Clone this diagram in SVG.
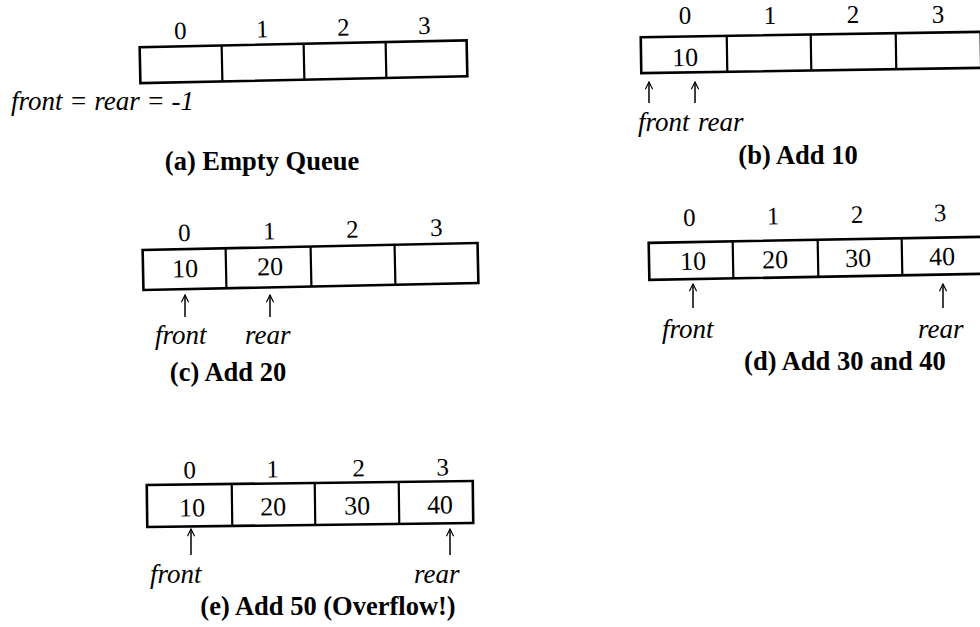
<svg xmlns="http://www.w3.org/2000/svg" width="980" height="627" viewBox="0 0 980 627">
  <defs>
    <style>
      .cell { fill: #fff; stroke: #000; stroke-width: 2.6; }
      .div { stroke: #000; stroke-width: 2.2; }
      .idx { font-family: "Liberation Serif", "Times New Roman", serif; font-size: 25px; text-anchor: middle; fill: #000; }
      .val { font-family: "Liberation Serif", "Times New Roman", serif; font-size: 26px; text-anchor: middle; fill: #000; }
      .ptr { font-family: "Liberation Serif", "Times New Roman", serif; font-size: 27px; font-style: italic; fill: #000; }
      .cap { font-family: "Liberation Serif", "Times New Roman", serif; font-size: 26.5px; font-weight: bold; text-anchor: middle; fill: #000; }
      .arrow { stroke: #000; stroke-width: 1.5; fill: none; marker-end: url(#head); }
    </style>
    <marker id="head" viewBox="0 0 10 10" refX="9" refY="5" markerWidth="9" markerHeight="9" orient="auto" markerUnits="userSpaceOnUse">
      <path d="M1,1 L9,5 L1,9" fill="none" stroke="#000" stroke-width="1.3"/>
    </marker>
  </defs>

  <!-- (a) empty queue -->
  <g id="queue-a">
    <g transform="rotate(-1.2 303.5 61.75)">
      <rect class="cell" x="140" y="43.75" width="327" height="36"/>
      <line class="div" x1="222" y1="43.75" x2="222" y2="79.75"/>
      <line class="div" x1="304" y1="43.75" x2="304" y2="79.75"/>
      <line class="div" x1="386" y1="43.75" x2="386" y2="79.75"/>
      <text class="idx" x="181" y="36.5">0</text>
      <text class="idx" x="263" y="36.5">1</text>
      <text class="idx" x="344" y="36.5">2</text>
      <text class="idx" x="425" y="36.5">3</text>
    </g>
    <text class="ptr" x="11" y="110">front = rear = -1</text>
    <text class="cap" x="262" y="170">(a) Empty Queue</text>
  </g>

  <!-- (b) add 10 -->
  <g id="queue-b">
    <g transform="rotate(-0.9 811 52.5)">
      <rect class="cell" x="641" y="34.5" width="340" height="36"/>
      <line class="div" x1="727" y1="34.5" x2="727" y2="70.5"/>
      <line class="div" x1="811" y1="34.5" x2="811" y2="70.5"/>
      <line class="div" x1="896" y1="34.5" x2="896" y2="70.5"/>
      <text class="val" x="685" y="64">10</text>
    </g>
    <text class="idx" x="685" y="24">0</text>
    <text class="idx" x="770" y="23.5">1</text>
    <text class="idx" x="853" y="23">2</text>
    <text class="idx" x="938" y="23">3</text>
    <text class="ptr" x="638" y="131">front</text>
    <text class="ptr" x="698" y="131">rear</text>
    <text class="cap" x="798" y="164">(b) Add 10</text>
  </g>

  <!-- (c) add 20 -->
  <g id="queue-c">
    <g transform="rotate(-1.2 310.5 266.5)">
      <rect class="cell" x="143" y="246.5" width="335" height="40"/>
      <line class="div" x1="226" y1="246.5" x2="226" y2="286.5"/>
      <line class="div" x1="311" y1="246.5" x2="311" y2="286.5"/>
      <line class="div" x1="395" y1="246.5" x2="395" y2="286.5"/>
      <text class="idx" x="185" y="238.5">0</text>
      <text class="idx" x="270" y="238.5">1</text>
      <text class="idx" x="353" y="238.5">2</text>
      <text class="idx" x="437" y="238.5">3</text>
      <text class="val" x="185" y="274.5">10</text>
      <text class="val" x="270" y="274.5">20</text>
    </g>
    <text class="ptr" x="155" y="344">front</text>
    <text class="ptr" x="245" y="344">rear</text>
    <text class="cap" x="228" y="381">(c) Add 20</text>
  </g>

  <!-- (d) add 30 and 40 -->
  <g id="queue-d">
    <g transform="rotate(-1.05 818 258.3)">
      <rect class="cell" x="649" y="239.8" width="338" height="37"/>
      <line class="div" x1="733" y1="239.8" x2="733" y2="276.8"/>
      <line class="div" x1="818" y1="239.8" x2="818" y2="276.8"/>
      <line class="div" x1="902" y1="239.8" x2="902" y2="276.8"/>
      <text class="idx" x="690" y="223.5">0</text>
      <text class="idx" x="774" y="223.5">1</text>
      <text class="idx" x="858" y="223.5">2</text>
      <text class="idx" x="941" y="223.5">3</text>
      <text class="val" x="693" y="267.5">10</text>
      <text class="val" x="775" y="267.5">20</text>
      <text class="val" x="858" y="267.5">30</text>
      <text class="val" x="942" y="267.5">40</text>
    </g>
    <text class="ptr" x="662" y="338">front</text>
    <text class="ptr" x="918" y="338">rear</text>
    <text class="cap" x="845" y="370">(d) Add 30 and 40</text>
  </g>

  <!-- (e) add 50: overflow -->
  <g id="queue-e">
    <g transform="rotate(-0.7 310 504)">
      <rect class="cell" x="147" y="483" width="326" height="42"/>
      <line class="div" x1="232" y1="483" x2="232" y2="525"/>
      <line class="div" x1="315" y1="483" x2="315" y2="525"/>
      <line class="div" x1="399" y1="483" x2="399" y2="525"/>
      <text class="idx" x="190" y="477">0</text>
      <text class="idx" x="273" y="477">1</text>
      <text class="idx" x="359" y="477">2</text>
      <text class="idx" x="443" y="477">3</text>
      <text class="val" x="192" y="515">10</text>
      <text class="val" x="273" y="515">20</text>
      <text class="val" x="357" y="515">30</text>
      <text class="val" x="440" y="515">40</text>
    </g>
    <text class="ptr" x="150" y="583">front</text>
    <text class="ptr" x="414" y="583">rear</text>
    <text class="cap" x="328" y="615">(e) Add 50 (Overflow!)</text>
  </g>

  <!-- pointer arrows -->
  <g id="connectors">
    <line class="arrow" x1="649" y1="103" x2="649" y2="82"/>
    <line class="arrow" x1="695" y1="103" x2="695" y2="82"/>
    <line class="arrow" x1="185" y1="317" x2="185" y2="295"/>
    <line class="arrow" x1="270" y1="317" x2="270" y2="295"/>
    <line class="arrow" x1="693" y1="308" x2="693" y2="284"/>
    <line class="arrow" x1="943" y1="308" x2="943" y2="284"/>
    <line class="arrow" x1="191" y1="555" x2="191" y2="529"/>
    <line class="arrow" x1="450" y1="555" x2="450" y2="529"/>
  </g>
</svg>
